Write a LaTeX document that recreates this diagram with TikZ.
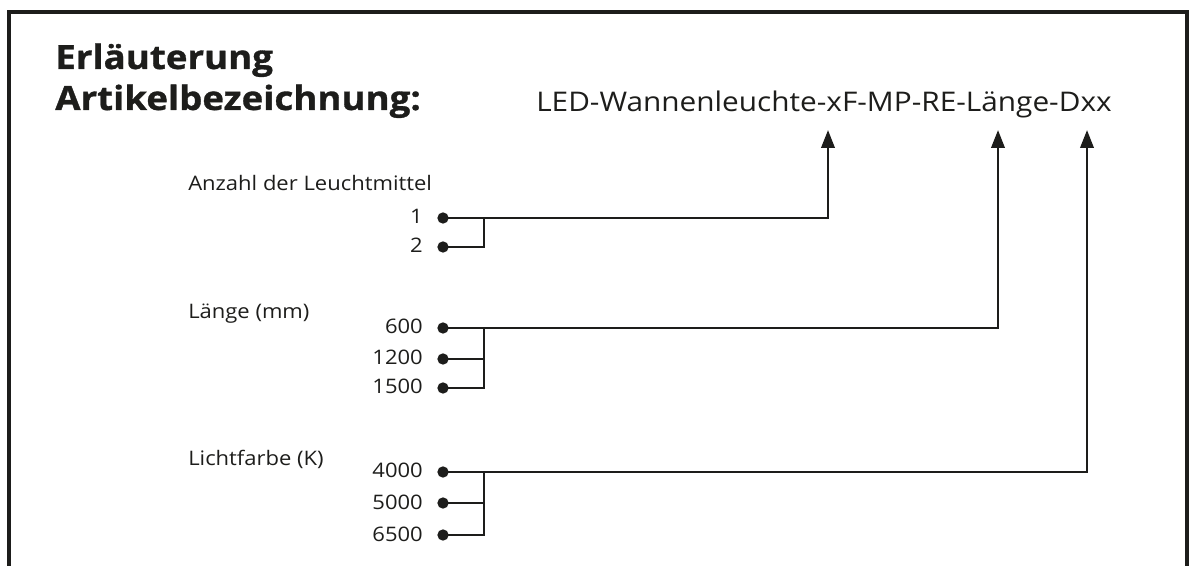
\documentclass[tikz,border=0pt]{standalone}
\usepackage{fontspec}
\setmainfont{Open Sans}
\newfontfamily\headfont[FakeStretch=1.1,FakeBold=1]{Open Sans Bold}
\newfontfamily\widefont[FakeStretch=1.1]{Open Sans}
\usetikzlibrary{arrows.meta}
\definecolor{ink}{RGB}{29,29,27}
\tikzset{
  frameline/.style={draw=ink, line width=2.3pt},
  conn/.style={draw=ink, line width=2pt},
  arr/.style={conn, -{Triangle[length=13.5pt,width=10pt]}},
  dot/.style={circle, fill=ink, inner sep=0pt, minimum size=8.5pt},
  heading/.style={anchor=base west, inner sep=0pt, font=\headfont\fontsize{25}{29}\selectfont, text=ink},
  code/.style={anchor=base west, inner sep=0pt, font=\widefont\fontsize{20.3}{24}\selectfont, text=ink},
  grp/.style={anchor=base west, inner sep=0pt, font=\widefont\fontsize{15}{18}\selectfont, text=ink},
  val/.style={anchor=base east, inner sep=0pt, font=\widefont\fontsize{15}{18}\selectfont, text=ink}
}
\begin{document}
\begin{tikzpicture}[x=0.75pt,y=-0.75pt]
\useasboundingbox (0,0) rectangle (1196,566);
\draw[frameline] (9,570) -- (9,12) -- (1187,12) -- (1187,570);

\node[heading] (h1) at (55,69) {Erläuterung};
\node[heading] (h2) at (55,110) {Artikelbezeichnung:};
\node[code] (code) at (536,112) {LED-Wannenleuchte-xF-MP-RE-Länge-Dxx};

\coordinate (t1) at (828,130);
\coordinate (t2) at (998,130);
\coordinate (t3) at (1087,130);

% group 1
\node[grp] (g1) at (188,191) {Anzahl der Leuchtmittel};
\node[val] (v11) at (423,224) {1};
\node[val] (v12) at (423,253) {2};
\node[dot] (d11) at (443,218) {};
\node[dot] (d12) at (443,247) {};
\coordinate (b1) at (484,218);

% group 2
\node[grp] (g2) at (188,319) {Länge (mm)};
\node[val] (v21) at (423,334) {600};
\node[val] (v22) at (423,365) {1200};
\node[val] (v23) at (423,394) {1500};
\node[dot] (d21) at (443,328) {};
\node[dot] (d22) at (443,359) {};
\node[dot] (d23) at (443,388) {};
\coordinate (b2) at (484,328);

% group 3
\node[grp] (g3) at (188,465) {Lichtfarbe (K)};
\node[val] (v31) at (423,478) {4000};
\node[val] (v32) at (423,509) {5000};
\node[val] (v33) at (423,541) {6500};
\node[dot] (d31) at (443,472) {};
\node[dot] (d32) at (443,503) {};
\node[dot] (d33) at (443,535) {};
\coordinate (b3) at (484,472);

\draw[arr] (d11.center) -| (t1);
\draw[conn] (d12.center) -| (b1);

\draw[arr] (d21.center) -| (t2);
\draw[conn] (d22.center) -- (d22.center -| b2);
\draw[conn] (d23.center) -| (b2);

\draw[arr] (d31.center) -| (t3);
\draw[conn] (d32.center) -- (d32.center -| b3);
\draw[conn] (d33.center) -| (b3);
\end{tikzpicture}
\end{document}
